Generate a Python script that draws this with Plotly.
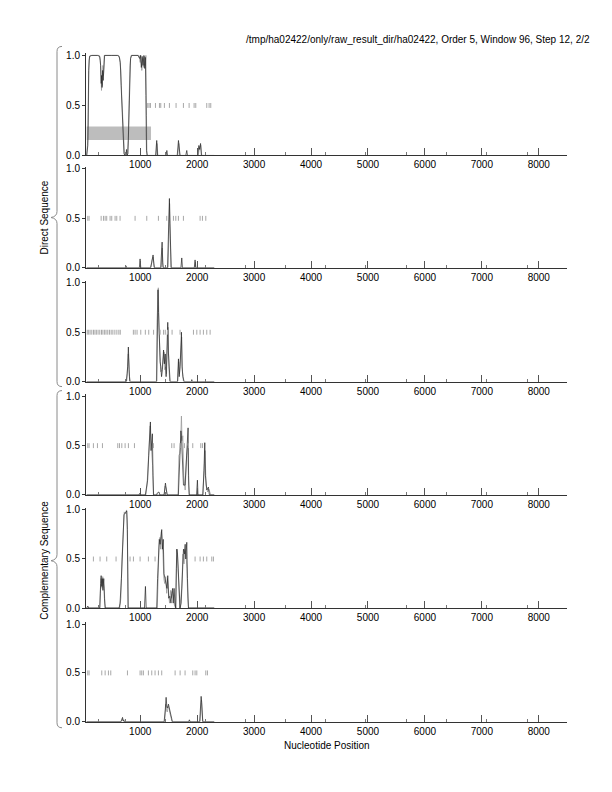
import plotly.graph_objects as go

# page body has an 8px margin, so the figure is sized to fit inside the window
OFF = 8
W, H = 612 - 2 * OFF, 770

# ---------------- data ----------------
title_text = "/tmp/ha02422/only/raw_result_dir/ha02422, Order 5, Window 96, Step 12, 2/2"
x_major_ticks = [1000, 2000, 3000, 4000, 5000, 6000, 7000, 8000]
x_minor_ticks = [265, 735, 1440, 2140, 2844, 3547, 4255, 4960, 5685, 6388, 7079, 7794]
y_ticks = [0.0, 0.5, 1.0]
y_tick_labels = ["0.0", "0.5", "1.0"]

# gray ORF bar in frame 1
bar_start = [60]
bar_length = [1130]
bar_y_low = 0.155
bar_y_high = 0.29

# frame 1 (direct)
f1_dark_x = [60, 80, 95, 110, 150, 250, 290, 305, 315, 322, 330, 340, 350, 360, 375, 500, 600, 630, 650, 665, 680, 700, 715, 730, 750, 760, 770, 785, 800, 815, 830, 850, 960, 990, 1005, 1020, 1035, 1050, 1065, 1080, 1090, 1100, 1110, 1125, 1270, 1290, 1305, 1455, 1468, 1480, 1650, 1672, 1690, 1700, 1800, 1818, 1830, 2010, 2030, 2045, 2060, 2075, 2300]
f1_dark_y = [0.0, 0.1, 0.85, 0.99, 1.0, 1.0, 0.99, 0.9, 0.72, 0.8, 0.68, 0.85, 0.75, 0.95, 1.0, 1.0, 1.0, 0.99, 0.93, 0.7, 0.45, 0.15, 0.02, 0.0, 0.0, 0.06, 0.0, 0.02, 0.3, 0.75, 0.97, 1.0, 1.0, 0.97, 1.0, 0.88, 0.99, 0.9, 1.0, 0.87, 0.98, 0.6, 0.05, 0.0, 0.0, 0.15, 0.0, 0.0, 0.05, 0.0, 0.0, 0.15, 0.02, 0.0, 0.0, 0.05, 0.0, 0.0, 0.1, 0.06, 0.12, 0.0, 0.0]
f1_light_x = [60, 85, 100, 120, 280, 300, 312, 320, 328, 336, 345, 355, 368, 620, 640, 660, 675, 695, 710, 725, 770, 790, 805, 820, 840, 980, 1000, 1012, 1028, 1045, 1060, 1075, 1088, 1100, 1110, 1118, 1280, 1295, 1310, 1660, 1678, 1695, 2020, 2040, 2065, 2080, 2300]
f1_light_y = [0.0, 0.2, 0.95, 1.0, 1.0, 0.95, 0.78, 0.65, 0.75, 0.7, 0.9, 0.8, 1.0, 1.0, 0.97, 0.85, 0.6, 0.3, 0.05, 0.0, 0.0, 0.15, 0.55, 0.9, 1.0, 1.0, 0.93, 1.0, 0.85, 0.97, 0.88, 0.99, 0.9, 1.0, 0.4, 0.0, 0.0, 0.12, 0.0, 0.0, 0.12, 0.0, 0.0, 0.08, 0.1, 0.0, 0.0]
f1_stops = [1133, 1156, 1180, 1268, 1338, 1361, 1425, 1513, 1630, 1759, 1859, 1947, 1976, 2169, 2210, 2239]

# frame 2 (direct)
f2_dark_x = [60, 740, 750, 760, 985, 998, 1010, 1180, 1200, 1215, 1226, 1240, 1250, 1360, 1375, 1385, 1395, 1405, 1480, 1495, 1505, 1513, 1522, 1535, 1545, 1715, 1730, 1742, 1950, 1964, 1975, 2300]
f2_dark_y = [0, 0, 0.02, 0, 0, 0.09, 0, 0, 0.05, 0.1, 0.13, 0.04, 0, 0, 0.12, 0.26, 0.05, 0, 0, 0.3, 0.6, 0.7, 0.45, 0.1, 0, 0, 0.1, 0, 0, 0.08, 0, 0]
f2_light_x = [60, 1190, 1210, 1228, 1245, 1370, 1388, 1400, 1490, 1505, 1516, 1528, 1540, 1960, 1970, 1980, 2300]
f2_light_y = [0, 0, 0.08, 0.11, 0, 0, 0.2, 0, 0, 0.45, 0.65, 0.3, 0, 0, 0.06, 0, 0]
f2_stops = [79, 102, 314, 355, 384, 412, 471, 500, 559, 588, 646, 910, 1115, 1320, 1466, 1584, 1625, 1671, 1759, 2052, 2093, 2152]

# frame 3 (direct)
f3_dark_x = [60, 760, 780, 792, 805, 815, 1290, 1300, 1312, 1322, 1335, 1350, 1362, 1375, 1390, 1410, 1425, 1440, 1455, 1470, 1484, 1495, 1510, 1525, 1655, 1665, 1672, 1685, 1700, 1715, 1724, 1735, 1750, 1771, 1900, 1906, 1915, 2300]
f3_dark_y = [0, 0, 0.15, 0.35, 0.12, 0, 0, 0.4, 0.93, 0.7, 0.35, 0.2, 0.15, 0.05, 0.12, 0.32, 0.18, 0.28, 0.05, 0.3, 0.6, 0.3, 0.05, 0, 0, 0.1, 0.23, 0.05, 0.15, 0.35, 0.5, 0.15, 0.05, 0, 0, 0.02, 0, 0]
f3_light_x = [60, 750, 772, 790, 800, 812, 830, 1285, 1295, 1305, 1318, 1330, 1345, 1360, 1380, 1400, 1418, 1432, 1448, 1462, 1476, 1490, 1502, 1520, 1660, 1676, 1690, 1710, 1728, 1742, 1760, 2300]
f3_light_y = [0, 0, 0.08, 0.28, 0.2, 0.05, 0, 0, 0.6, 0.85, 0.95, 0.55, 0.25, 0.1, 0.12, 0.2, 0.3, 0.12, 0.15, 0.08, 0.45, 0.55, 0.15, 0, 0, 0.2, 0.08, 0.25, 0.45, 0.1, 0, 0]
f3_stops = [70, 95, 120, 150, 180, 205, 230, 260, 290, 320, 345, 375, 400, 430, 460, 490, 520, 555, 590, 625, 650, 880, 910, 945, 1010, 1090, 1150, 1235, 1350, 1410, 1440, 1480, 1560, 1700, 1935, 1994, 2052, 2110, 2169, 2228]

# frame 4 (complementary)
f4_dark_x = [60, 980, 998, 1010, 1090, 1105, 1130, 1150, 1165, 1179, 1190, 1200, 1214, 1225, 1235, 1290, 1300, 1330, 1345, 1420, 1443, 1460, 1475, 1670, 1685, 1700, 1715, 1724, 1740, 1760, 1788, 1810, 1828, 1841, 1850, 1860, 1990, 2005, 2015, 2100, 2120, 2134, 2145, 2170, 2198, 2215, 2300]
f4_dark_y = [0, 0, 0.02, 0, 0, 0.05, 0.15, 0.4, 0.6, 0.74, 0.45, 0.5, 0.62, 0.2, 0, 0, 0.02, 0.03, 0, 0, 0.12, 0.05, 0, 0, 0.3, 0.5, 0.65, 0.6, 0.3, 0.1, 0.1, 0.3, 0.55, 0.68, 0.2, 0, 0, 0.15, 0, 0, 0.25, 0.53, 0.2, 0.05, 0.08, 0, 0]
f4_light_x = [60, 1100, 1120, 1140, 1160, 1175, 1188, 1205, 1218, 1232, 1420, 1438, 1455, 1470, 1665, 1680, 1695, 1710, 1724, 1735, 1748, 1765, 1790, 1815, 1835, 1850, 1865, 2100, 2125, 2140, 2155, 2185, 2205, 2239, 2300]
f4_light_y = [0, 0, 0.1, 0.3, 0.5, 0.7, 0.55, 0.45, 0.3, 0, 0, 0.09, 0.07, 0, 0, 0.4, 0.42, 0.55, 0.8, 0.55, 0.6, 0.2, 0.05, 0.4, 0.5, 0.1, 0, 0, 0.35, 0.45, 0.1, 0.03, 0.06, 0, 0]
f4_stops = [79, 102, 178, 249, 337, 606, 636, 677, 735, 793, 899, 1232, 1554, 1595, 1701, 1777, 1847, 1923, 2064, 2093]

# frame 5 (complementary)
f5_dark_x = [60, 80, 95, 290, 305, 314, 325, 335, 345, 360, 372, 384, 630, 646, 670, 695, 715, 735, 750, 764, 775, 782, 787, 1075, 1092, 1105, 1290, 1305, 1320, 1335, 1350, 1365, 1378, 1390, 1405, 1418, 1437, 1455, 1470, 1484, 1500, 1520, 1540, 1554, 1570, 1580, 1595, 1610, 1625, 1635, 1642, 1655, 1670, 1689, 1700, 1720, 1740, 1760, 1775, 1790, 1800, 1818, 1830, 1847, 2300]
f5_dark_y = [0, 0.02, 0, 0, 0.25, 0.33, 0.22, 0.3, 0.18, 0.3, 0.1, 0, 0, 0.05, 0.3, 0.7, 0.95, 0.97, 0.99, 0.99, 0.8, 0.3, 0, 0, 0.22, 0, 0, 0.3, 0.6, 0.7, 0.65, 0.75, 0.8, 0.6, 0.7, 0.35, 0.3, 0.25, 0.2, 0.33, 0.1, 0.12, 0.05, 0.15, 0.2, 0.05, 0.2, 0.05, 0.0, 0.4, 0.6, 0.55, 0.3, 0.1, 0.0, 0.05, 0.45, 0.6, 0.55, 0.65, 0.5, 0.67, 0.3, 0, 0]
f5_light_x = [60, 290, 300, 310, 320, 330, 342, 355, 368, 380, 390, 640, 660, 680, 700, 720, 745, 760, 770, 780, 790, 1300, 1315, 1330, 1345, 1360, 1372, 1385, 1400, 1415, 1430, 1448, 1465, 1480, 1495, 1515, 1535, 1550, 1565, 1585, 1600, 1620, 1640, 1650, 1665, 1680, 1695, 1730, 1750, 1770, 1785, 1805, 1820, 1835, 1850, 2300]
f5_light_y = [0, 0, 0.15, 0.3, 0.28, 0.2, 0.32, 0.25, 0.2, 0.05, 0, 0, 0.1, 0.5, 0.85, 0.98, 0.96, 1.0, 0.9, 0.5, 0, 0, 0.45, 0.62, 0.72, 0.6, 0.78, 0.7, 0.55, 0.3, 0.25, 0.32, 0.15, 0.3, 0.2, 0.05, 0.18, 0.1, 0.17, 0.12, 0.03, 0, 0.5, 0.6, 0.4, 0.15, 0, 0.2, 0.55, 0.45, 0.6, 0.55, 0.4, 0.1, 0, 0]
f5_stops = [178, 295, 412, 576, 822, 881, 998, 1144, 1261, 1964, 2052, 2110, 2169, 2257, 2286]

# frame 6 (complementary)
f6_dark_x = [60, 660, 675, 690, 700, 712, 720, 1420, 1440, 1455, 1468, 1480, 1496, 1515, 1535, 1554, 1565, 1850, 1864, 1875, 2045, 2055, 2065, 2070, 2080, 2090, 2099, 2300]
f6_dark_y = [0, 0, 0.02, 0.045, 0.01, 0.02, 0, 0, 0.12, 0.25, 0.15, 0.14, 0.18, 0.12, 0.05, 0.03, 0, 0, 0.02, 0, 0, 0.1, 0.22, 0.26, 0.2, 0.05, 0, 0]
f6_light_x = [60, 665, 685, 700, 715, 1430, 1450, 1462, 1475, 1490, 1505, 1525, 1545, 1560, 2050, 2062, 2075, 2088, 2098, 2300]
f6_light_y = [0, 0, 0.03, 0.02, 0, 0, 0.18, 0.12, 0.1, 0.16, 0.14, 0.08, 0.04, 0, 0, 0.18, 0.22, 0.08, 0, 0]
f6_stops = [79, 102, 325, 384, 442, 483, 776, 998, 1027, 1056, 1144, 1203, 1261, 1320, 1378, 1613, 1701, 1788, 1923, 1964, 1994, 2152, 2181]

# ---------------- layout helpers (window pixel -> paper) ----------------
# empirical vertical correction measured from the rendered picture
V_SCALE, V_SHIFT = 0.9865, 3.7

def pxx(x):
    return (x - OFF) / W

def pxy(y):
    yc = (y - V_SHIFT) / V_SCALE
    return 1 - (yc - OFF) / H

panel_px = [(55, 155), (168.3, 267.3), (282.3, 381), (395.7, 494.3), (509.3, 607.3), (623.3, 721)]
x_left_px, x_right_px = 86, 567
x_range = [48, 8496]
y_top = 1.02

frames = [
    (f1_dark_x, f1_dark_y, f1_light_x, f1_light_y, f1_stops),
    (f2_dark_x, f2_dark_y, f2_light_x, f2_light_y, f2_stops),
    (f3_dark_x, f3_dark_y, f3_light_x, f3_light_y, f3_stops),
    (f4_dark_x, f4_dark_y, f4_light_x, f4_light_y, f4_stops),
    (f5_dark_x, f5_dark_y, f5_light_x, f5_light_y, f5_stops),
    (f6_dark_x, f6_dark_y, f6_light_x, f6_light_y, f6_stops),
]

FONT = "Liberation Sans, Arial, Helvetica, sans-serif"
fig = go.Figure()
layout = dict(
    width=W, height=H, margin=dict(l=0, r=0, t=0, b=0),
    paper_bgcolor="white", plot_bgcolor="white", showlegend=False,
    font=dict(family=FONT, size=10, color="black"),
)

for i, (dx, dy, lx, ly, stops) in enumerate(frames):
    n = "" if i == 0 else str(i + 1)
    xa, ya = "x" + n, "y" + n
    if i == 0:
        fig.add_trace(go.Bar(
            orientation="h", y=[(bar_y_low + bar_y_high) / 2], x=bar_length, base=bar_start,
            width=[bar_y_high - bar_y_low], marker=dict(color="#bdbdbd", line=dict(width=0)),
            xaxis=xa, yaxis=ya, hoverinfo="skip"))
    fig.add_trace(go.Scatter(x=lx, y=ly, mode="lines", line=dict(color="#9a9a9a", width=0.8),
                             xaxis=xa, yaxis=ya))
    fig.add_trace(go.Scatter(x=dx, y=dy, mode="lines", line=dict(color="#222222", width=0.7),
                             xaxis=xa, yaxis=ya))
    fig.add_trace(go.Scatter(x=stops, y=[0.5] * len(stops), mode="markers",
                             marker=dict(symbol="line-ns", size=3.5, line=dict(color="#a8a8a8", width=1)),
                             xaxis=xa, yaxis=ya, cliponaxis=False))
    top, bot = panel_px[i]
    top_ext = top - (y_top - 1.0) * (bot - top)
    layout["xaxis" + n] = dict(
        domain=[pxx(x_left_px), pxx(x_right_px)], range=x_range, anchor=ya,
        tickmode="array", tickvals=x_major_ticks, ticks="inside", ticklen=7, tickwidth=1,
        tickcolor="#555", showline=True, linecolor="#333", linewidth=1, showgrid=False,
        zeroline=False, tickfont=dict(size=10, family=FONT),
        minor=dict(tickmode="array", tickvals=x_minor_ticks, ticks="inside", ticklen=3,
                   tickcolor="#777", tickwidth=1, showgrid=False),
    )
    layout["yaxis" + n] = dict(
        domain=[pxy(bot), pxy(top_ext)], range=[0, y_top], anchor=xa,
        tickmode="array", tickvals=y_ticks, ticktext=y_tick_labels, ticks="outside",
        ticklen=3, tickcolor="#333", showline=True, linecolor="#333", linewidth=1,
        showgrid=False, zeroline=False, tickfont=dict(size=10, family=FONT),
    )

fig.update_layout(**layout)

# braces
def brace(top, bot, tip, xl=57, xh=62, xt=51):
    pts = [
        f"M {pxx(xh)} {pxy(top)}",
        f"Q {pxx(xl)} {pxy(top)} {pxx(xl)} {pxy(top + 5)}",
        f"L {pxx(xl)} {pxy(tip - 6)}",
        f"Q {pxx(xl)} {pxy(tip - 1)} {pxx(xt)} {pxy(tip)}",
        f"Q {pxx(xl)} {pxy(tip + 1)} {pxx(xl)} {pxy(tip + 6)}",
        f"L {pxx(xl)} {pxy(bot - 5)}",
        f"Q {pxx(xl)} {pxy(bot)} {pxx(xh)} {pxy(bot)}",
    ]
    return dict(type="path", path=" ".join(pts), xref="paper", yref="paper",
                line=dict(color="#8a8a8a", width=1))

fig.add_shape(brace(46, 386, 217))
fig.add_shape(brace(390, 727, 560))

fig.add_annotation(text=title_text, x=pxx(592), y=pxy(39), xref="paper", yref="paper",
                   xanchor="right", yanchor="middle", showarrow=False,
                   font=dict(size=10, family=FONT))
fig.add_annotation(text="Direct Sequence", x=pxx(45), y=pxy(217), xref="paper", yref="paper",
                   textangle=-90, showarrow=False, xanchor="center", yanchor="middle",
                   font=dict(size=10, family=FONT))
fig.add_annotation(text="Complementary Sequence", x=pxx(45), y=pxy(560), xref="paper", yref="paper",
                   textangle=-90, showarrow=False, xanchor="center", yanchor="middle",
                   font=dict(size=10, family=FONT))
fig.add_annotation(text="Nucleotide Position", x=pxx(327), y=pxy(745), xref="paper", yref="paper",
                   showarrow=False, xanchor="center", yanchor="middle",
                   font=dict(size=10, family=FONT))

fig.write_html("out.html")
